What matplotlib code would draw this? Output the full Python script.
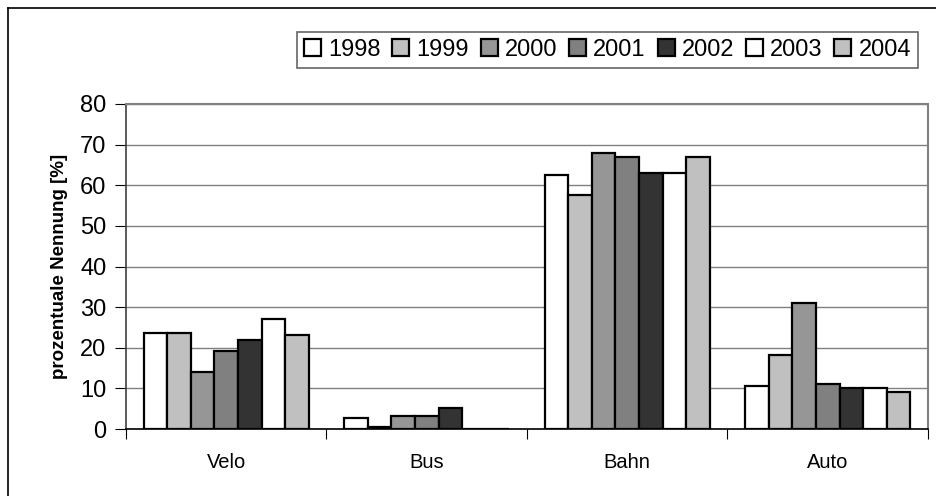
import matplotlib
matplotlib.use("Agg")
import matplotlib.pyplot as plt
from matplotlib.lines import Line2D
import numpy as np

plt.rcParams['font.family'] = ['Liberation Sans', 'DejaVu Sans']

categories = ["Velo", "Bus", "Bahn", "Auto"]
years = ["1998", "1999", "2000", "2001", "2002", "2003", "2004"]
colors = ["#FFFFFF", "#C0C0C0", "#969696", "#808080", "#333333", "#FFFFFF", "#C0C0C0"]

v1998 = [23.6, 2.7, 62.5, 10.6]
v1999 = [23.6, 0.6, 57.5, 18.1]
v2000 = [14.0, 3.2, 68.0, 31.1]
v2001 = [19.2, 3.2, 67.0, 11.1]
v2002 = [21.9, 5.1, 63.0, 10.1]
v2003 = [27.0, 0.0, 63.0, 10.1]
v2004 = [23.1, 0.0, 67.0, 9.1]
series = [v1998, v1999, v2000, v2001, v2002, v2003, v2004]

fig = plt.figure(figsize=(9.37, 4.96), dpi=100)
ax = fig.add_axes([126/937, 67/496, (928-126)/937, (429-104)/496])

x = np.arange(len(categories))
w = 1/8.5
handles = []
for i, (yr, vals, c) in enumerate(zip(years, series, colors)):
    b = ax.bar(x + (i - 3) * w, vals, w, color=c, edgecolor='black',
               linewidth=1.6, label=yr, zorder=3)
    handles.append(b)

ax.set_xlim(-0.5, 3.5)
ax.set_ylim(0, 80)
ax.set_yticks(range(0, 81, 10))
ax.yaxis.grid(True, color='#808080', linewidth=1, zorder=0)
ax.set_axisbelow(True)

ax.set_xticks(np.arange(-0.5, 4, 1))
ax.set_xticklabels([])
ax.set_xticks(x, minor=True)
ax.set_xticklabels(categories, minor=True, fontsize=14.5)
ax.tick_params(axis='x', which='minor', length=0, pad=17)
ax.tick_params(axis='x', which='major', length=7, direction='out', color='black')
ax.tick_params(axis='y', length=8, direction='out', labelsize=17, pad=6)

for s in ['top', 'right']:
    ax.spines[s].set_color('#808080')
    ax.spines[s].set_linewidth(1.5)
ax.spines['left'].set_color('#404040')
ax.spines['left'].set_linewidth(1.2)
ax.spines['bottom'].set_color('black')
ax.spines['bottom'].set_linewidth(1.2)

ax.set_ylabel("prozentuale Nennung [%]", fontsize=13.5, fontweight='bold', labelpad=9)

leg = fig.legend(handles=handles, labels=years, loc='upper left',
                 bbox_to_anchor=(297/937, 1 - 32/496), ncol=7, fontsize=17,
                 frameon=True, fancybox=False, handlelength=0.72, handleheight=0.72,
                 handletextpad=0.3, columnspacing=0.5, borderpad=0.3,
                 borderaxespad=0)
leg.get_frame().set_edgecolor('#404040')
leg.get_frame().set_linewidth(1.2)

# outer chart frame
fig.add_artist(Line2D([8.5/937, 8.5/937], [0, 1 - 7.5/496], transform=fig.transFigure,
                      color='black', linewidth=1.2))
fig.add_artist(Line2D([8.5/937, 1], [1 - 7.5/496, 1 - 7.5/496], transform=fig.transFigure,
                      color='black', linewidth=1.2))

fig.savefig("out.png", dpi=100)
